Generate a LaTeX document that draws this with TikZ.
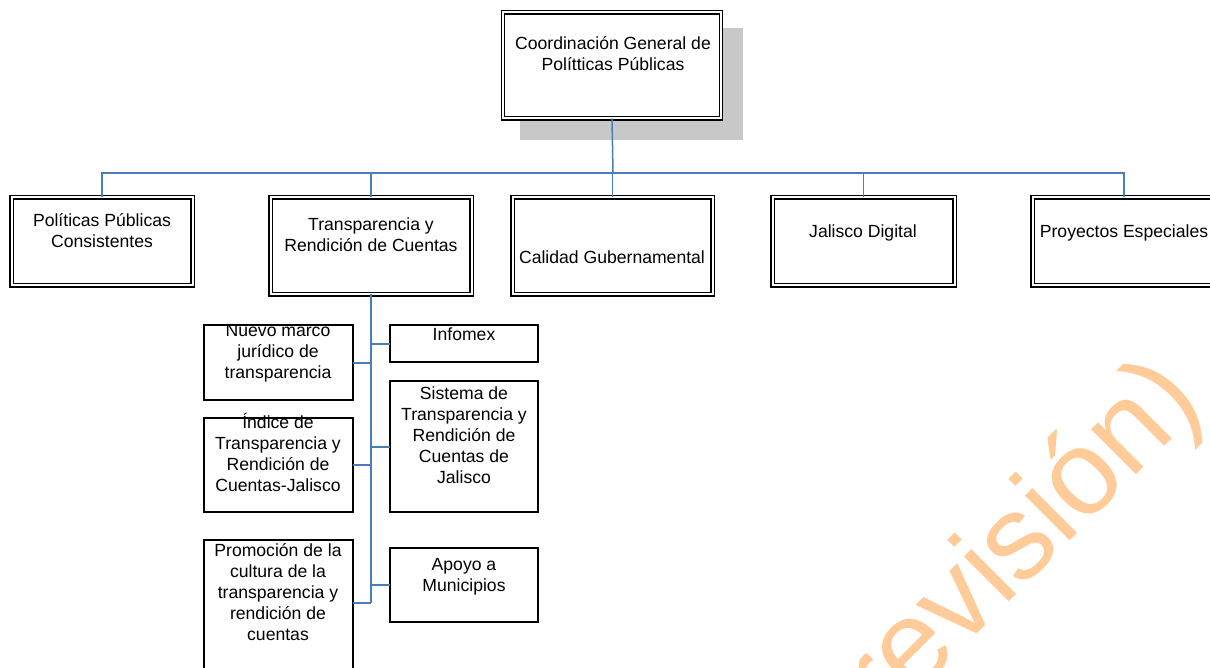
\documentclass[tikz,border=0pt]{standalone}
\usepackage{fontspec}
\setmainfont{Liberation Sans}
\definecolor{connc}{HTML}{4A7EBB}
\definecolor{wm}{HTML}{FFCC99}
\definecolor{shadowgray}{HTML}{C8C8C8}
\begin{document}
\begin{tikzpicture}[x=1pt,y=-1pt,
 dblbox/.style={draw, double, double distance=2pt, line width=1.2pt, fill=white, inner sep=0pt, outer sep=0pt},
 sbox/.style={draw, line width=1.2pt, fill=white, inner sep=0pt, outer sep=0pt},
 lbl/.style={align=center, inner sep=0pt, font=\fontsize{17.6}{21}\selectfont},
 thinconn/.style={draw=connc, line width=1.5pt},
 thickconn/.style={draw=connc, line width=2pt}]
\useasboundingbox (0,0) rectangle (1210,668);
\fill[white] (0,0) rectangle (1210,668);
\begin{scope}
\clip (0,0) rectangle (1210,668);
% watermark
\node[anchor=base east, rotate=45, inner sep=0pt, text=wm, font=\fontsize{120}{120}\selectfont] (wmark) at (1206,405) {revisión)};
% shadow
\fill[shadowgray] (520,28) rectangle (743,140);
% top box
\node[dblbox, minimum width=218pt, minimum height=106pt] (top) at (612,65.5) {};
\node[lbl] (toptxt) at (613,53.5) {Coordinación General de\\Polítticas Públicas};
% level 1
\node[dblbox, minimum width=181pt, minimum height=88pt] (b1) at (102,241.5) {};
\node[dblbox, minimum width=201pt, minimum height=97pt] (b2) at (371,246) {};
\node[dblbox, minimum width=200pt, minimum height=97pt] (b3) at (612.5,246) {};
\node[dblbox, minimum width=182pt, minimum height=88pt] (b4) at (863.5,241.5) {};
\node[dblbox, minimum width=183pt, minimum height=88pt] (b5) at (1124,241.5) {};
\node[lbl] (t1) at (102,230.5) {Políticas Públicas\\Consistentes};
\node[lbl] (t2) at (371,235) {Transparencia y\\Rendición de Cuentas};
\node[lbl] (t3) at (612,257) {Calidad Gubernamental};
\node[lbl] (t4) at (863,233) {Jalisco Digital};
\node[lbl] (t5) at (1124,233) {Proyectos Especiales};
% level 1 connectors
\coordinate (bus) at (613,173);
\draw[thinconn] (top.south) -- (bus);
\draw[thinconn] (b1.north) -- (b1.north |- bus) -- (b5.north |- bus) -- (b5.north);
\draw[thinconn] (b2.north) -- (b2.north |- bus);
\draw[thinconn] (b3.north) -- (b3.north |- bus);
\draw[thinconn] (b4.north) -- (b4.north |- bus);
% level 2 boxes
\node[sbox, minimum width=149pt, minimum height=75pt] (l1) at (278.5,362.5) {};
\node[sbox, minimum width=149pt, minimum height=94pt] (l2) at (278.5,465) {};
\node[sbox, minimum width=149pt, minimum height=160pt] (l3) at (278.5,620) {};
\node[sbox, minimum width=148pt, minimum height=37pt] (r1) at (464,343.5) {};
\node[sbox, minimum width=148pt, minimum height=131pt] (r2) at (464,446.5) {};
\node[sbox, minimum width=148pt, minimum height=74pt] (r3) at (464,585) {};
\node[lbl] (tl1) at (278,353) {Nuevo marco\\jurídico de\\transparencia};
\node[lbl] (tl2) at (278,452) {Índice de\\Transparencia y\\Rendición de\\Cuentas-Jalisco};
\node[lbl] (tl3) at (278,592) {Promoción de la\\cultura de la\\transparencia y\\rendición de\\cuentas};
\node[lbl] (tr1) at (464,334) {Infomex};
\node[lbl] (tr2) at (464,435) {Sistema de\\Transparencia y\\Rendición de\\Cuentas de\\Jalisco};
\node[lbl] (tr3) at (464,576.5) {Apoyo a\\Municipios};
% level 2 connectors
\coordinate (spineend) at (371,603);
\draw[thickconn] (b2.south) -- (spineend);
\draw[thickconn] (l1.east) -- (l1.east -| spineend);
\draw[thickconn] (l2.east) -- (l2.east -| spineend);
\draw[thickconn] (l3.east |- spineend) -- (spineend);
\draw[thickconn] (r1.west) -- (r1.west -| spineend);
\draw[thickconn] (r2.west) -- (r2.west -| spineend);
\draw[thickconn] (r3.west) -- (r3.west -| spineend);
\end{scope}
\end{tikzpicture}
\end{document}
